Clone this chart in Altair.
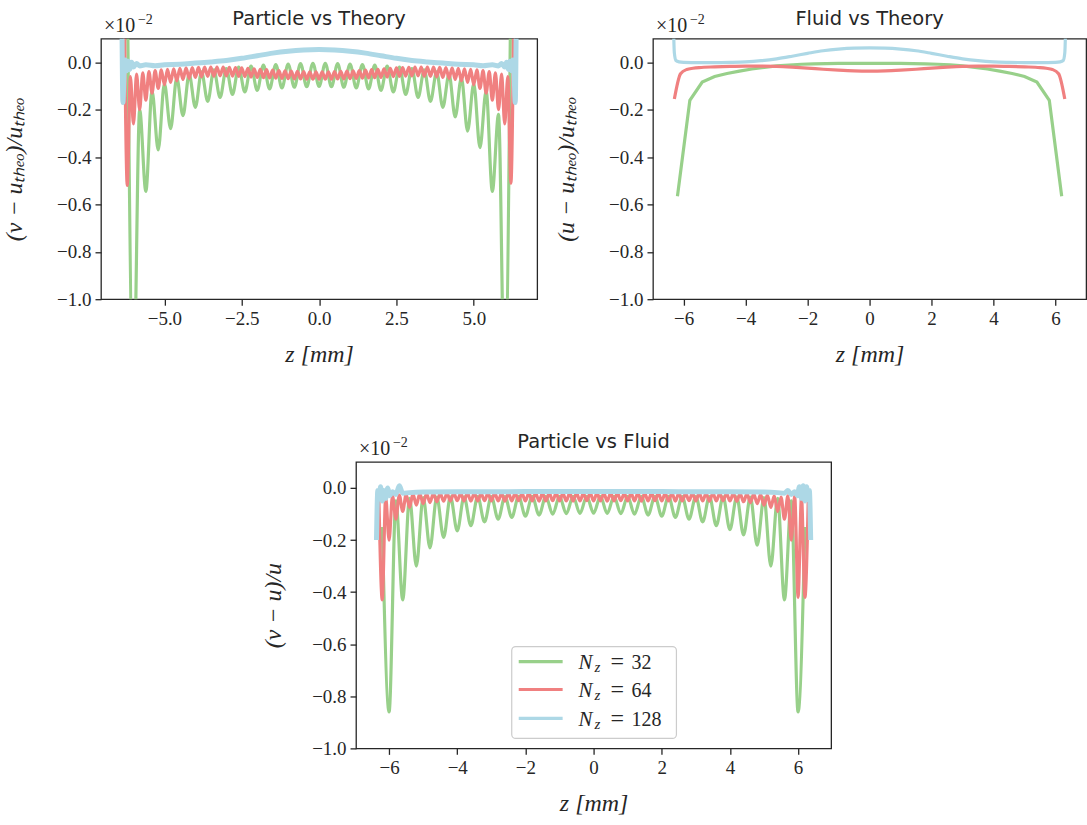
import altair as alt
import pandas as pd

# ---------------- grids (cell centres / faces) ----------------
Z32_C = [-6.2, -5.8, -5.4, -5.0, -4.6, -4.2, -3.8, -3.4, -3.0, -2.6, -2.2, -1.8, -1.4, -1.0, -0.6, -0.2,
         0.2, 0.6, 1.0, 1.4, 1.8, 2.2, 2.6, 3.0, 3.4, 3.8, 4.2, 4.6, 5.0, 5.4, 5.8, 6.2]
Z32_F = [-6.0, -5.6, -5.2, -4.8, -4.4, -4.0, -3.6, -3.2, -2.8, -2.4, -2.0, -1.6, -1.2, -0.8, -0.4, 0.0,
         0.4, 0.8, 1.2, 1.6, 2.0, 2.4, 2.8, 3.2, 3.6, 4.0, 4.4, 4.8, 5.2, 5.6, 6.0]
Z64_C = [-6.3, -6.1, -5.9, -5.7, -5.5, -5.3, -5.1, -4.9, -4.7, -4.5, -4.3, -4.1, -3.9, -3.7, -3.5, -3.3,
         -3.1, -2.9, -2.7, -2.5, -2.3, -2.1, -1.9, -1.7, -1.5, -1.3, -1.1, -0.9, -0.7, -0.5, -0.3, -0.1,
         0.1, 0.3, 0.5, 0.7, 0.9, 1.1, 1.3, 1.5, 1.7, 1.9, 2.1, 2.3, 2.5, 2.7, 2.9, 3.1,
         3.3, 3.5, 3.7, 3.9, 4.1, 4.3, 4.5, 4.7, 4.9, 5.1, 5.3, 5.5, 5.7, 5.9, 6.1, 6.3]
Z64_F = [-6.2, -6.0, -5.8, -5.6, -5.4, -5.2, -5.0, -4.8, -4.6, -4.4, -4.2, -4.0, -3.8, -3.6, -3.4, -3.2,
         -3.0, -2.8, -2.6, -2.4, -2.2, -2.0, -1.8, -1.6, -1.4, -1.2, -1.0, -0.8, -0.6, -0.4, -0.2, 0.0,
         0.2, 0.4, 0.6, 0.8, 1.0, 1.2, 1.4, 1.6, 1.8, 2.0, 2.2, 2.4, 2.6, 2.8, 3.0, 3.2,
         3.4, 3.6, 3.8, 4.0, 4.2, 4.4, 4.6, 4.8, 5.0, 5.2, 5.4, 5.6, 5.8, 6.0, 6.2]

# ---------------- Particle vs Theory (values in units of 1e-2) ----------------
A_G_PEAK = [0.35, -0.20, -0.12, -0.09, -0.065, -0.05, -0.04, -0.032, -0.026, -0.02, -0.016, -0.012, -0.009, -0.007, -0.005, -0.004,
            -0.004, -0.005, -0.007, -0.009, -0.012, -0.016, -0.02, -0.026, -0.032, -0.04, -0.05, -0.065, -0.09, -0.12, -0.22, 0.35]
A_G_TROUGH = [-1.40, -0.545, -0.37, -0.28, -0.225, -0.19, -0.165, -0.148, -0.135, -0.125, -0.118, -0.112, -0.108, -0.105, -0.103, -0.102,
              -0.103, -0.105, -0.108, -0.112, -0.118, -0.125, -0.135, -0.148, -0.165, -0.19, -0.23, -0.29, -0.36, -0.545, -1.40]
A_R_PEAK = [0.30, -0.060, -0.050, -0.044, -0.039, -0.035, -0.032, -0.029, -0.027, -0.025, -0.023, -0.022, -0.021, -0.020, -0.020, -0.020,
            -0.020, -0.021, -0.022, -0.023, -0.025, -0.027, -0.029, -0.031, -0.033, -0.035, -0.036, -0.037, -0.038, -0.039, -0.040, -0.040,
            -0.040, -0.040, -0.039, -0.038, -0.037, -0.036, -0.035, -0.033, -0.031, -0.029, -0.027, -0.025, -0.023, -0.022, -0.021, -0.020,
            -0.020, -0.020, -0.020, -0.021, -0.022, -0.023, -0.025, -0.027, -0.029, -0.032, -0.035, -0.039, -0.044, -0.050, -0.060, 0.30]
A_R_TROUGH = [-0.52, -0.26, -0.20, -0.16, -0.13, -0.11, -0.095, -0.085, -0.078, -0.072, -0.068, -0.064, -0.061, -0.059, -0.058, -0.057,
              -0.057, -0.058, -0.059, -0.060, -0.062, -0.063, -0.065, -0.066, -0.067, -0.068, -0.069, -0.070, -0.070, -0.071, -0.071, -0.071,
              -0.071, -0.071, -0.070, -0.070, -0.069, -0.068, -0.067, -0.066, -0.065, -0.063, -0.062, -0.060, -0.059, -0.058, -0.057, -0.057,
              -0.058, -0.059, -0.061, -0.064, -0.068, -0.072, -0.078, -0.085, -0.095, -0.11, -0.13, -0.16, -0.20, -0.26, -0.51]
A_B_Z = [-6.38, -6.34, -6.30, -6.26, -6.22, -6.17, -6.12, -6.06, -6.0, -5.9, -5.8, -5.6, -5.3, -5.0, -4.5, -4.0, -3.5, -3.0,
         -2.5, -2.0, -1.5, -1.0, -0.5, 0.0, 0.5, 1.0, 1.5, 2.0, 2.5, 3.0, 3.5, 4.0, 4.5, 5.0, 5.3, 5.6, 5.8, 5.9,
         6.0, 6.06, 6.12, 6.17, 6.22, 6.26, 6.30, 6.34, 6.38]
A_B_V = [0.30, -0.17, -0.03, 0.01, -0.035, 0.005, -0.03, 0.0, -0.02, -0.005, -0.015, -0.01, -0.014, -0.01, -0.008, -0.003, 0.002, 0.008,
         0.017, 0.028, 0.039, 0.047, 0.052, 0.054, 0.052, 0.047, 0.039, 0.028, 0.017, 0.008, 0.002, -0.003, -0.008, -0.01, -0.014, -0.01, -0.015, -0.005,
         -0.02, 0.0, -0.03, 0.005, -0.035, 0.01, -0.03, -0.17, 0.30]

# ---------------- Fluid vs Theory ----------------
B_G_V = [-0.565, -0.16, -0.083, -0.06, -0.047, -0.037, -0.028, -0.021, -0.015, -0.011, -0.008, -0.006, -0.005, -0.004, -0.004, -0.004,
         -0.004, -0.004, -0.004, -0.005, -0.006, -0.008, -0.011, -0.015, -0.021, -0.028, -0.037, -0.047, -0.06, -0.083, -0.16, -0.565]
B_R_Z = [-6.3, -6.1, -5.9, -5.7, -5.5, -5.0, -4.5, -4.0, -3.5, -3.0, -2.5, -2.0, -1.5, -1.0, -0.5, 0.0,
         0.5, 1.0, 1.5, 2.0, 2.5, 3.0, 3.5, 4.0, 4.5, 5.0, 5.5, 5.7, 5.9, 6.1, 6.3]
B_R_V = [-0.155, -0.048, -0.030, -0.025, -0.022, -0.019, -0.017, -0.016, -0.016, -0.017, -0.020, -0.024, -0.029, -0.033, -0.036, -0.037,
         -0.036, -0.033, -0.029, -0.024, -0.020, -0.017, -0.016, -0.016, -0.017, -0.019, -0.022, -0.025, -0.030, -0.048, -0.155]
B_B_Z = [-6.35, -6.3, -6.25, -6.15, -6.0, -5.5, -5.0, -4.5, -4.0, -3.5, -3.0, -2.5, -2.0, -1.5, -1.0, -0.5, 0.0,
         0.5, 1.0, 1.5, 2.0, 2.5, 3.0, 3.5, 4.0, 4.5, 5.0, 5.5, 6.0, 6.15, 6.25, 6.3, 6.35]
B_B_V = [0.30, 0.04, 0.008, 0.002, 0.0, -0.001, -0.001, 0.0, 0.002, 0.007, 0.015, 0.026, 0.038, 0.049, 0.056, 0.060, 0.061,
         0.060, 0.056, 0.049, 0.038, 0.026, 0.015, 0.007, 0.002, 0.0, -0.001, -0.001, 0.0, 0.002, 0.008, 0.04, 0.30]

# ---------------- Particle vs Fluid ----------------
C_G_PEAK = [-0.15, -0.05, -0.04, -0.037, -0.035, -0.034, -0.034, -0.033, -0.033, -0.033, -0.032, -0.032, -0.032, -0.032, -0.032, -0.032,
            -0.032, -0.032, -0.032, -0.032, -0.032, -0.032, -0.033, -0.033, -0.033, -0.034, -0.034, -0.035, -0.037, -0.04, -0.05, -0.15]
C_G_TROUGH = [-0.86, -0.43, -0.30, -0.23, -0.19, -0.165, -0.145, -0.13, -0.12, -0.113, -0.108, -0.104, -0.101, -0.099, -0.098, -0.097,
              -0.098, -0.099, -0.101, -0.104, -0.108, -0.113, -0.12, -0.13, -0.145, -0.16, -0.18, -0.22, -0.30, -0.43, -0.86]
C_R_PEAK = [-0.03, -0.035, -0.030, -0.027, -0.025, -0.023, -0.022, -0.022, -0.021, -0.021, -0.021, -0.020, -0.021, -0.020, -0.020, -0.021,
            -0.020, -0.020, -0.021, -0.020, -0.020, -0.021, -0.020, -0.020, -0.021, -0.020, -0.020, -0.021, -0.020, -0.020, -0.021, -0.020,
            -0.020, -0.021, -0.020, -0.020, -0.021, -0.020, -0.020, -0.021, -0.020, -0.020, -0.021, -0.020, -0.020, -0.021, -0.020, -0.020,
            -0.021, -0.020, -0.021, -0.021, -0.021, -0.022, -0.022, -0.023, -0.025, -0.027, -0.030, -0.035, -0.03, -0.03, -0.035, -0.03]
C_R_TROUGH = [-0.43, -0.20, -0.12, -0.09, -0.075, -0.066, -0.060, -0.056, -0.053, -0.051, -0.050, -0.049, -0.050, -0.051, -0.050, -0.049,
              -0.050, -0.050, -0.051, -0.050, -0.049, -0.050, -0.050, -0.051, -0.050, -0.049, -0.050, -0.050, -0.051, -0.050, -0.049, -0.050,
              -0.050, -0.051, -0.050, -0.049, -0.050, -0.050, -0.051, -0.050, -0.049, -0.050, -0.050, -0.051, -0.050, -0.049, -0.050, -0.050,
              -0.051, -0.050, -0.049, -0.050, -0.051, -0.053, -0.056, -0.060, -0.066, -0.075, -0.09, -0.12, -0.20, -0.42, -0.42]
C_B_Z = [-6.37, -6.33, -6.29, -6.25, -6.2, -6.15, -6.1, -6.04, -5.98, -5.9, -5.8, -5.7, -5.6, -5.4, -5.0, -4.0, -3.0, -2.0, -1.0, 0.0,
         1.0, 2.0, 3.0, 4.0, 5.0, 5.4, 5.6, 5.7, 5.8, 5.9, 5.98, 6.04, 6.1, 6.15, 6.2, 6.25, 6.29, 6.33, 6.37]
C_B_V = [-0.20, -0.01, -0.04, 0.005, -0.05, -0.01, -0.04, 0.0, -0.03, -0.015, -0.025, 0.008, -0.02, -0.018, -0.016, -0.015, -0.015, -0.014, -0.014, -0.014,
         -0.014, -0.014, -0.015, -0.015, -0.016, -0.018, -0.02, -0.01, -0.025, -0.015, -0.03, 0.005, -0.04, 0.008, -0.05, 0.005, -0.04, -0.01, -0.20]

GREEN, RED, BLUE = "#98d08a", "#f08080", "#add8e6"
INK = "#262626"
Y_TICKS = [-1.0, -0.8, -0.6, -0.4, -0.2, 0.0]
LEGEND_LABELS = ["32", "64", "128"]


def zz(z_a, v_a, z_b=None, v_b=None):
    z = list(z_a) + (list(z_b) if z_b else [])
    v = list(v_a) + (list(v_b) if v_b else [])
    return pd.DataFrame({"z": z, "v": v}).sort_values("z")


def panel(title, ytitle, xdom, xvals, xfmt, w, h, ypad, series):
    X = alt.X("z:Q", scale=alt.Scale(domain=xdom, nice=False, zero=False),
              axis=alt.Axis(values=xvals, format=xfmt, title="z [mm]", titlePadding=14))
    Y = alt.Y("v:Q", scale=alt.Scale(domain=[-1.0, 0.1], nice=False, zero=False),
              axis=alt.Axis(values=Y_TICKS, format=".1f", title=ytitle, titlePadding=ypad))
    layers = []
    for df, color, sw, interp in series:
        layers.append(alt.Chart(df).mark_line(clip=True, color=color, strokeWidth=sw,
                                              interpolate=interp).encode(x=X, y=Y))
    off = pd.DataFrame({"t": ["×10"]})
    layers.append(alt.Chart(off).mark_text(align="left", baseline="alphabetic", font="Liberation Serif",
                                           fontSize=20, color=INK)
                  .encode(x=alt.value(3), y=alt.value(-7), text="t:N"))
    sup = pd.DataFrame({"t": ["−2"]})
    layers.append(alt.Chart(sup).mark_text(align="left", baseline="alphabetic", font="Liberation Serif",
                                           fontSize=14, color=INK)
                  .encode(x=alt.value(37), y=alt.value(-15), text="t:N"))
    return alt.layer(*layers).properties(width=w, height=h, title=title)


A = panel("Particle vs Theory", "(v − uₜₕₑₒ)/uₜₕₑₒ", [-7.05, 7.05], [-5.0, -2.5, 0.0, 2.5, 5.0], ".1f", 437, 261, 30, [
    (zz(Z32_C, A_G_PEAK, Z32_F, A_G_TROUGH), GREEN, 3.2, "monotone"),
    (zz(Z64_C, A_R_PEAK, Z64_F, A_R_TROUGH), RED, 3.2, "monotone"),
    (zz(A_B_Z, A_B_V), BLUE, 5, "monotone"),
])
B = panel("Fluid vs Theory", "(u − uₜₕₑₒ)/uₜₕₑₒ", [-6.99, 6.99], [-6, -4, -2, 0, 2, 4, 6], "d", 434, 261, 30, [
    (zz(Z32_C, B_G_V), GREEN, 3.2, "linear"),
    (zz(B_R_Z, B_R_V), RED, 3.2, "monotone"),
    (zz(B_B_Z, B_B_V), BLUE, 3.2, "monotone"),
])
C = panel("Particle vs Fluid", "(v − u)/u", [-6.97, 6.97], [-6, -4, -2, 0, 2, 4, 6], "d", 476, 287, 26, [
    (zz(Z32_C, C_G_PEAK, Z32_F, C_G_TROUGH), GREEN, 3.2, "monotone"),
    (zz(Z64_C, C_R_PEAK, Z64_F, C_R_TROUGH), RED, 3.2, "monotone"),
    (zz(C_B_Z, C_B_V), BLUE, 5, "monotone"),
])

# legend (inside lower centre of the bottom panel)
leg_box = alt.Chart(pd.DataFrame({"a": [0]})).mark_rect(
    fill="white", fillOpacity=0.8, stroke="#cccccc", strokeWidth=1.2, cornerRadius=4
).encode(x=alt.value(156), x2=alt.value(321), y=alt.value(185), y2=alt.value(277))
leg_lines = alt.Chart(pd.DataFrame({
    "x": [163, 163, 163], "x2": [207, 207, 207], "y": [200, 228, 257], "c": LEGEND_LABELS
})).mark_rule(strokeWidth=3.2).encode(
    x=alt.X("x:Q", scale=None), x2="x2:Q", y=alt.Y("y:Q", scale=None),
    color=alt.Color("c:N", scale=alt.Scale(domain=LEGEND_LABELS, range=[GREEN, RED, BLUE]), legend=None))
leg_N = alt.Chart(pd.DataFrame({"x": [223, 223, 223], "y": [207, 235.5, 264.5], "t": ["N", "N", "N"]})).mark_text(
    align="left", baseline="alphabetic", font="Liberation Serif", fontStyle="italic", fontSize=21, color=INK
).encode(x=alt.X("x:Q", scale=None), y=alt.Y("y:Q", scale=None), text="t:N")
leg_z = alt.Chart(pd.DataFrame({"x": [239, 239, 239], "y": [210.5, 239, 268], "t": ["z", "z", "z"]})).mark_text(
    align="left", baseline="alphabetic", font="Liberation Serif", fontStyle="italic", fontSize=15, color=INK
).encode(x=alt.X("x:Q", scale=None), y=alt.Y("y:Q", scale=None), text="t:N")
leg_eq = alt.Chart(pd.DataFrame({"x": [255, 255, 255], "y": [207, 235.5, 264.5], "t": ["=", "=", "="]})).mark_text(
    align="left", baseline="alphabetic", font="Liberation Serif", fontSize=24, color=INK
).encode(x=alt.X("x:Q", scale=None), y=alt.Y("y:Q", scale=None), text="t:N")
leg_val = alt.Chart(pd.DataFrame({"x": [276, 276, 276], "y": [207, 235.5, 264.5], "t": LEGEND_LABELS})).mark_text(
    align="left", baseline="alphabetic", font="Liberation Serif", fontSize=20, color=INK
).encode(x=alt.X("x:Q", scale=None), y=alt.Y("y:Q", scale=None), text="t:N")

C = alt.layer(C, leg_box, leg_lines, leg_N, leg_z, leg_eq, leg_val).properties(width=476, height=287)

top = alt.hconcat(A, B, spacing=15)
chart = alt.vconcat(top, C, spacing=64, center=True).properties(
    padding={"left": 2, "top": 7, "right": 0, "bottom": 0}, background="white"
).configure_view(stroke=INK, strokeWidth=1.3).configure_axis(
    labelFont="Liberation Serif", labelFontSize=19, labelColor=INK, labelPadding=4,
    tickColor=INK, tickWidth=1.3, tickSize=6, domain=False, grid=False,
    titleFont="Liberation Serif", titleFontSize=24, titleFontWeight="normal", titleColor=INK
).configure_axisX(titleFontStyle="italic").configure_axisY(titleFontStyle="italic").configure_title(
    font="DejaVu Sans", fontSize=19.5, fontWeight="normal", color=INK, anchor="middle", offset=-17
)

chart.save("out.html", embed_options={"renderer": "svg", "actions": False})
